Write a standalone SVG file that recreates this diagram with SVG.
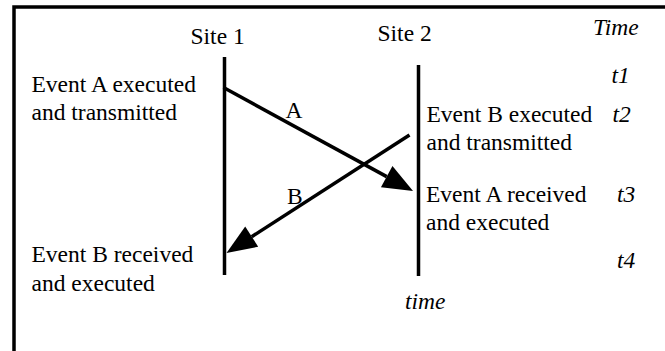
<svg xmlns="http://www.w3.org/2000/svg" width="665" height="351" viewBox="0 0 665 351">
<style>
.ln{stroke:#000;stroke-width:3.5;fill:none}
</style>
<defs>
<marker id="ah" markerUnits="userSpaceOnUse" markerWidth="31" markerHeight="25" refX="0" refY="12" orient="auto" overflow="visible">
<path d="M0,0 L30,12 L0,24 Z" fill="#000"/>
</marker>
</defs>
<rect width="665" height="351" fill="#fff"/>
<g id="frame">
<path class="ln" d="M14,351 L14,7 L665,7" stroke-width="3.8"/>
</g>
<g id="site1">
<text x="190.5" y="44" font-family="'Liberation Serif', serif" font-size="23.5">Site 1</text>
<line class="ln" x1="224.5" y1="57" x2="224.5" y2="275"/>
</g>
<g id="site2">
<text x="377.5" y="41" font-family="'Liberation Serif', serif" font-size="23.5">Site 2</text>
<line class="ln" x1="418.5" y1="65" x2="418.5" y2="276"/>
</g>
<g id="time-axis">
<text x="593" y="35" font-family="'Liberation Serif', serif" font-size="23.5" font-style="italic">Time</text>
<text x="611.5" y="83" font-family="'Liberation Serif', serif" font-size="23.5" font-style="italic">t1</text>
<text x="612.5" y="121.5" font-family="'Liberation Serif', serif" font-size="23.5" font-style="italic">t2</text>
<text x="617" y="201.5" font-family="'Liberation Serif', serif" font-size="23.5" font-style="italic">t3</text>
<text x="617" y="268" font-family="'Liberation Serif', serif" font-size="23.5" font-style="italic">t4</text>
<text x="405" y="309" font-family="'Liberation Serif', serif" font-size="23.5" font-style="italic">time</text>
</g>
<g id="event-a-exec">
<text x="31.5" y="91.5" font-family="'Liberation Serif', serif" font-size="23.5">Event A executed</text>
<text x="31.5" y="120" font-family="'Liberation Serif', serif" font-size="23.5">and transmitted</text>
</g>
<g id="event-b-exec">
<text x="426.5" y="121.5" font-family="'Liberation Serif', serif" font-size="23.5">Event B executed</text>
<text x="426.5" y="149.5" font-family="'Liberation Serif', serif" font-size="23.5">and transmitted</text>
</g>
<g id="event-a-recv">
<text x="426" y="201.5" font-family="'Liberation Serif', serif" font-size="23.5">Event A received</text>
<text x="426" y="230" font-family="'Liberation Serif', serif" font-size="23.5">and executed</text>
</g>
<g id="event-b-recv">
<text x="31.5" y="261.5" font-family="'Liberation Serif', serif" font-size="23.5">Event B received</text>
<text x="31.5" y="290.5" font-family="'Liberation Serif', serif" font-size="23.5">and executed</text>
</g>
<g id="connectors">
<line class="ln" x1="223.5" y1="87.5" x2="386.7" y2="176.6" marker-end="url(#ah)"/>
<line class="ln" x1="409.5" y1="135" x2="251.7" y2="236.7" marker-end="url(#ah)"/>
<text x="285.5" y="118" font-family="'Liberation Serif', serif" font-size="23.5">A</text>
<text x="287" y="203.5" font-family="'Liberation Serif', serif" font-size="23.5">B</text>
</g>
</svg>
